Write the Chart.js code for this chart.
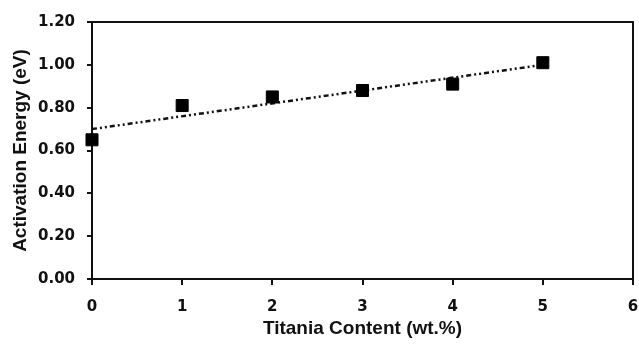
<!DOCTYPE html>
<html>
<head>
<meta charset="utf-8">
<script src="https://cdn.jsdelivr.net/npm/chart.js@4/dist/chart.umd.min.js"></script>
<style>
html,body{margin:0;padding:0;background:#fff;}
#wrap{width:639px;height:347px;position:relative;}
</style>
</head>
<body>
<div id="wrap"><canvas id="c" width="639" height="347"></canvas></div>
<script>
// Data
const titaniaContent = [0, 1, 2, 3, 4, 5];
const activationEnergy = [0.65, 0.81, 0.85, 0.88, 0.91, 1.01];
const trendX = [0, 5];
const trendY = [0.70, 1.00];
const xTitle = 'Titania Content (wt.%)';
const yTitle = 'Activation Energy (eV)';

const TICKFONT = '"DejaVu Sans", Verdana, sans-serif';
const TITLEFONT = '"Liberation Sans", Arial, sans-serif';

const frame = {
  id: 'frame',
  afterDraw(chart) {
    const a = chart.chartArea, ctx = chart.ctx;
    ctx.save();
    ctx.strokeStyle = '#111';
    ctx.lineWidth = 2;
    ctx.beginPath();
    ctx.moveTo(a.left, a.top);
    ctx.lineTo(a.right, a.top);
    ctx.lineTo(a.right, a.bottom);
    ctx.stroke();
    ctx.restore();
  }
};

new Chart(document.getElementById('c'), {
  type: 'scatter',
  data: {
    datasets: [
      {
        type: 'line',
        data: trendX.map((x, i) => ({x, y: trendY[i]})),
        borderColor: '#111',
        borderWidth: 2.5,
        borderDash: [5, 3, 2, 3, 2, 3],
        pointRadius: 0,
        fill: false,
        clip: false,
        order: 2
      },
      {
        data: titaniaContent.map((x, i) => ({x, y: activationEnergy[i]})),
        pointStyle: 'rect',
        pointRadius: 8.5,
        backgroundColor: '#000',
        borderColor: '#000',
        borderWidth: 1,
        clip: false,
        order: 1
      }
    ]
  },
  plugins: [frame],
  options: {
    responsive: false,
    animation: false,
    layout: {autoPadding: false, padding: {left: 0, right: 6, top: 22, bottom: 0}},
    plugins: {legend: {display: false}, tooltip: {enabled: false}},
    scales: {
      x: {
        type: 'linear', min: 0, max: 6,
        ticks: {stepSize: 1, color: '#111', padding: 13, font: {family: TICKFONT, size: 15, weight: 'bold'}},
        grid: {drawOnChartArea: false, drawTicks: true, tickLength: 6, color: '#111', lineWidth: 2},
        border: {color: '#111', width: 2},
        title: {display: true, text: xTitle, color: '#111', padding: {top: 0, bottom: 7}, font: {family: TITLEFONT, size: 19, weight: 'bold'}},
        afterFit(s) { s.height = 68; s.paddingLeft = 0; s.paddingRight = 0; }
      },
      y: {
        type: 'linear', min: 0, max: 1.2,
        ticks: {stepSize: 0.2, color: '#111', padding: 12, font: {family: TICKFONT, size: 15, weight: 'bold'},
          callback: v => Number(v).toFixed(2)},
        grid: {drawOnChartArea: false, drawTicks: true, tickLength: 5, color: '#111', lineWidth: 2},
        border: {color: '#111', width: 2},
        title: {display: true, text: yTitle, color: '#111', padding: {top: 9, bottom: 0}, font: {family: TITLEFONT, size: 19, weight: 'bold'}},
        afterFit(s) { s.width = 92; s.paddingTop = 0; s.paddingBottom = 0; }
      }
    }
  }
});
</script>
</body>
</html>
